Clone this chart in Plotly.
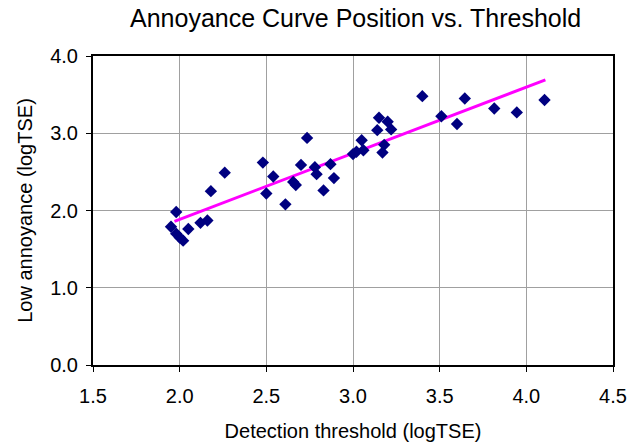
import plotly.graph_objects as go

# Detection threshold vs. low-annoyance position, both in logTSE
threshold = [1.95, 1.98, 1.98, 2.00, 2.02, 2.05, 2.12, 2.16, 2.18, 2.26,
             2.48, 2.50, 2.54, 2.61, 2.655, 2.67, 2.70, 2.735, 2.78, 2.79,
             2.83, 2.87, 2.89, 3.00, 3.02, 3.05, 3.06, 3.14, 3.15, 3.17,
             3.18, 3.20, 3.22, 3.40, 3.51, 3.60, 3.645, 3.815, 3.945, 4.105]
low_annoyance = [1.79, 1.98, 1.70, 1.65, 1.61, 1.76, 1.84, 1.87, 2.25, 2.49,
                 2.62, 2.22, 2.44, 2.08, 2.37, 2.33, 2.59, 2.94, 2.56, 2.47,
                 2.26, 2.60, 2.42, 2.73, 2.76, 2.91, 2.78, 3.04, 3.20, 2.75,
                 2.85, 3.15, 3.05, 3.48, 3.22, 3.12, 3.45, 3.32, 3.27, 3.43]

# Linear trend line end points
trend_x = [1.97, 4.11]
trend_y = [1.86, 3.69]

x_ticks = [1.5, 2.0, 2.5, 3.0, 3.5, 4.0, 4.5]
y_ticks = [0.0, 1.0, 2.0, 3.0, 4.0]

FONT = "Liberation Sans, Arial, sans-serif"

fig = go.Figure()
fig.add_trace(go.Scatter(
    x=trend_x, y=trend_y, mode="lines",
    line=dict(color="#FF00FF", width=3),
    showlegend=False, hoverinfo="skip",
))
fig.add_trace(go.Scatter(
    x=threshold, y=low_annoyance, mode="markers",
    marker=dict(symbol="diamond", size=9.5, color="#000080",
                line=dict(width=0)),
    showlegend=False,
))

axis_common = dict(
    showgrid=True, gridcolor="#A0A0A0", gridwidth=1,
    showline=True, linecolor="black", linewidth=2, mirror=True,
    ticks="outside", ticklen=5, tickcolor="black", tickwidth=1,
    tickformat=".1f", zeroline=False, automargin=False,
    tickfont=dict(family=FONT, size=20, color="black"),
)

fig.update_xaxes(
    range=[1.5, 4.5], tickvals=x_ticks, ticklabelstandoff=7,
    title=dict(text="Detection threshold (logTSE)",
               font=dict(family=FONT, size=20, color="black"), standoff=18),
    **axis_common,
)
fig.update_yaxes(
    range=[0.0, 4.0], tickvals=y_ticks, ticklabelstandoff=4,
    title=dict(text="Low annoyance (logTSE)",
               font=dict(family=FONT, size=20, color="black"), standoff=12),
    **axis_common,
)

fig.update_layout(
    width=635, height=444,
    margin=dict(l=93, r=22, t=56, b=79),
    paper_bgcolor="white", plot_bgcolor="white",
    title=dict(text="Annoyance Curve Position vs. Threshold",
               font=dict(family=FONT, size=25, color="black"),
               x=0.56, xanchor="center", y=0.959, yanchor="middle"),
)

fig.write_html("out.html")
